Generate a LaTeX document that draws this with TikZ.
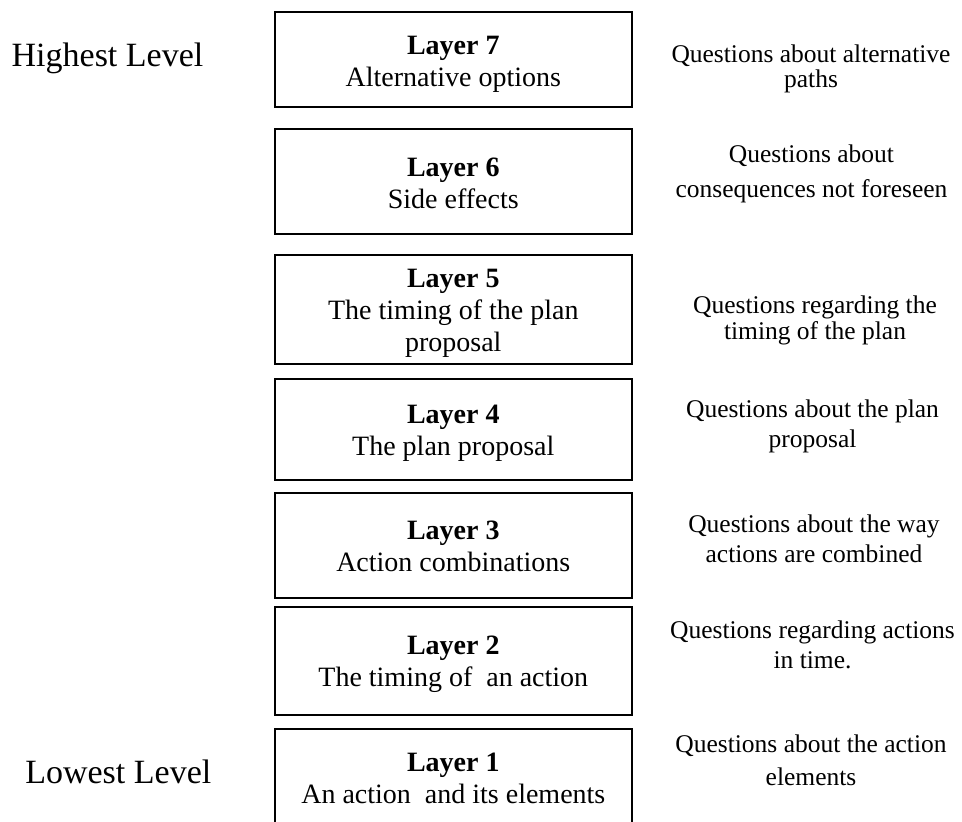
\documentclass[tikz,border=0pt]{standalone}
\usepackage{fontspec}
\setmainfont{Liberation Serif}

% invisible strut that makes a first line taller, lowering the text block
\newcommand{\liftline}[1]{\rule{0pt}{#1}}

\tikzset{
  layerbox/.style={draw=black, line width=1.4pt, minimum width=357pt,
    minimum height=#1, inner sep=0pt, align=center,
    font=\fontsize{28}{32}\selectfont},
  qtext/.style={anchor=north, inner sep=0pt, align=center,
    font=\fontsize{25.5}{#1}\selectfont},
  leveltext/.style={anchor=base, inner sep=0pt,
    font=\fontsize{34}{38}\selectfont}
}

\begin{document}
\begin{tikzpicture}[x=1pt, y=-1pt]
  \useasboundingbox (0,0) rectangle (962,822);
  \clip (0,0) rectangle (962,822);

  % the seven layers, stacked from the highest to the lowest
  \node[layerbox=95pt]  (l7) at (453.3, 59.3)  {\liftline{28.5pt}\textbf{Layer 7}\\Alternative options};
  \node[layerbox=105pt] (l6) at (453.3, 181.5) {\liftline{22pt}\textbf{Layer 6}\\Side effects};
  \node[layerbox=109pt] (l5) at (453.3, 309.5) {\liftline{25.5pt}\textbf{Layer 5}\\The timing of the plan\\proposal};
  \node[layerbox=101pt] (l4) at (453.3, 429.5) {\liftline{25.3pt}\textbf{Layer 4}\\The plan proposal};
  \node[layerbox=105pt] (l3) at (453.3, 545.5) {\liftline{20.7pt}\textbf{Layer 3}\\Action combinations};
  \node[layerbox=108pt] (l2) at (453.3, 661)   {\liftline{25.7pt}\textbf{Layer 2}\\The timing of~ an action};
  \node[layerbox=98pt]  (l1) at (453.3, 778)   {\textbf{Layer 1}\\An action~ and its elements};

  % questions asked at each layer
  \node[qtext=25.6pt] (q7) at (811, 44.3)    {Questions about alternative\\paths};
  \node[qtext=34.4pt] (q6) at (811.5, 144.9) {Questions about\\consequences not foreseen};
  \node[qtext=26pt]   (q5) at (815, 295.9)   {Questions regarding the\\timing of the plan};
  \node[qtext=30pt]   (q4) at (812.5, 399.3) {Questions about the plan\\proposal};
  \node[qtext=30pt]   (q3) at (814, 514.3)   {Questions about the way\\actions are combined};
  \node[qtext=30pt]   (q2) at (812.5, 620.9) {Questions regarding actions\\in time.};
  \node[qtext=33.3pt] (q1) at (811, 734.3)   {Questions about the action\\elements};

  % level markers
  \node[leveltext] (hi) at (107.5, 66)    {Highest Level};
  \node[leveltext] (lo) at (118.3, 783.3) {Lowest Level};
\end{tikzpicture}
\end{document}
